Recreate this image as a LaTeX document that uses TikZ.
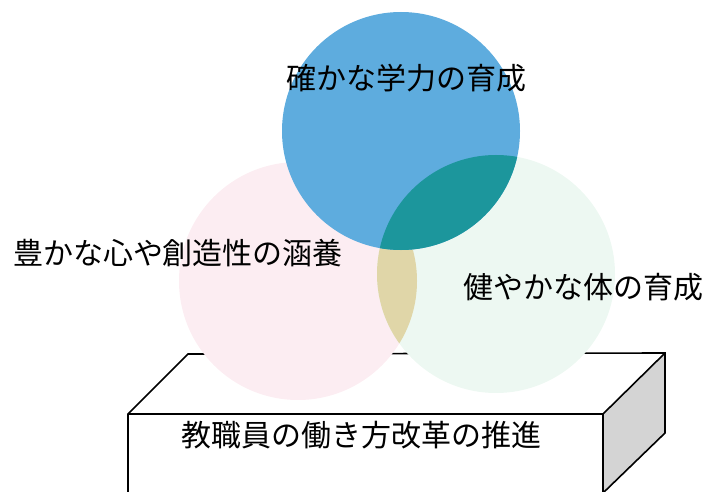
\documentclass[tikz,border=0pt]{standalone}
\usepackage{fontspec}
\newfontfamily\jp{Noto Sans CJK JP}
\definecolor{bluec}{RGB}{94,172,222}
\definecolor{tealc}{RGB}{28,150,156}
\definecolor{pinkc}{RGB}{252,237,242}
\definecolor{greenc}{RGB}{237,248,242}
\definecolor{beigec}{RGB}{224,214,168}
\definecolor{boxgray}{RGB}{212,212,212}
\begin{document}
\begin{tikzpicture}[x=1pt,y=-1pt,
  lab/.style={font=\jp\fontsize{30}{30}\selectfont, inner sep=0pt, text=black},
  edge/.style={line width=1.6pt, line join=miter, black},
  disc/.style={circle, inner sep=0pt, minimum size=238pt}]
\useasboundingbox (0,0) rectangle (710,492);
% box
\coordinate (FL) at (128,414);
\coordinate (FR) at (603,414);
\coordinate (BL) at (188,354);
\coordinate (BR) at (665,353);
\coordinate (FLb) at (128,493);
\coordinate (FRb) at (603,493);
\coordinate (BRb) at (665,433);
\fill[boxgray] (FR) -- (BR) -- (BRb) -- (FRb) -- cycle;
\draw[edge] (FLb) -- (FL) -- (BL) -- (BR) -- (BRb) -- (FRb);
\draw[edge] (FL) -- (FR) -- (FRb);
\draw[edge] (FR) -- (BR);
% circles
\node[disc, fill=pinkc] (pink) at (298,281) {};
\node[disc, fill=greenc] (green) at (496,274) {};
\begin{scope}
  \clip (298,281) circle[radius=119pt];
  \fill[beigec] (496,274) circle[radius=119pt];
\end{scope}
\node[disc, fill=bluec] (blue) at (401,131) {};
\begin{scope}
  \clip (401,131) circle[radius=119pt];
  \fill[tealc] (496,274) circle[radius=119pt];
\end{scope}
% labels
\node[lab] (tblue) at (406,78) {確かな学力の育成};
\node[lab] (tpink) at (178,253) {豊かな心や創造性の涵養};
\node[lab] (tgreen) at (583,287) {健やかな体の育成};
\node[lab] (tbox) at (361,435) {教職員の働き方改革の推進};
\end{tikzpicture}
\end{document}
